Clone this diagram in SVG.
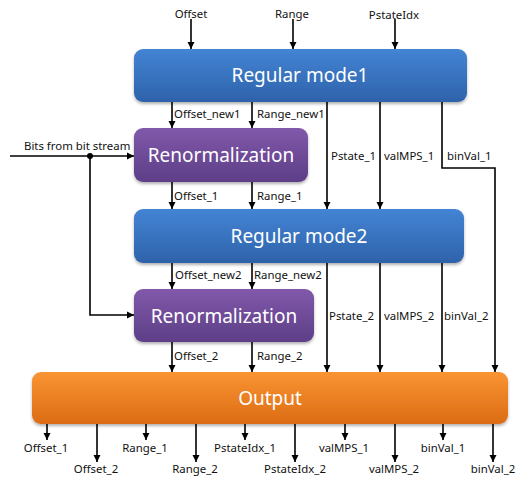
<svg xmlns="http://www.w3.org/2000/svg" width="521" height="479" viewBox="0 0 521 479">
  <style>
    .lbl { font-family: "Noto Sans", "DejaVu Sans", sans-serif; font-size: 11.4px; fill: #111; }
    .box { font-family: "Noto Sans", "DejaVu Sans", sans-serif; font-size: 19px; fill: #fff; text-anchor: middle; }
    .mid { text-anchor: middle; }
    .ln { fill: none; stroke: #000; stroke-width: 1.6; }
    .arr { marker-end: url(#ah); }
  </style>
  <defs>
    <marker id="ah" viewBox="0 0 10 10" refX="10" refY="5" markerWidth="4.5" markerHeight="4.5" markerUnits="strokeWidth" orient="auto">
      <path d="M0,0 L10,5 L0,10 z" fill="#000"/>
    </marker>
    <linearGradient id="gBlue" x1="0" y1="0" x2="0" y2="1">
      <stop offset="0" stop-color="#4384d4"/>
      <stop offset="1" stop-color="#2e62aa"/>
    </linearGradient>
    <linearGradient id="gPurple" x1="0" y1="0" x2="0" y2="1">
      <stop offset="0" stop-color="#8159aa"/>
      <stop offset="1" stop-color="#5d3e87"/>
    </linearGradient>
    <linearGradient id="gOrange" x1="0" y1="0" x2="0" y2="1">
      <stop offset="0" stop-color="#f99433"/>
      <stop offset="1" stop-color="#dc6c14"/>
    </linearGradient>
    <filter id="sh" x="-5%" y="-10%" width="110%" height="130%">
      <feDropShadow dx="0" dy="2" stdDeviation="1.5" flood-color="#000" flood-opacity="0.3"/>
    </filter>
  </defs>

  <rect width="521" height="479" fill="#fff"/>

  <!-- processing blocks -->
  <g id="regular-mode1">
    <rect x="134" y="49" width="333" height="53" rx="9" fill="url(#gBlue)" filter="url(#sh)"/>
    <text class="box" x="300" y="82">Regular mode1</text>
  </g>
  <g id="renorm1">
    <rect x="134" y="128" width="174" height="54" rx="9" fill="url(#gPurple)" filter="url(#sh)"/>
    <text class="box" x="221" y="162">Renormalization</text>
  </g>
  <g id="regular-mode2">
    <rect x="134" y="209" width="330" height="54" rx="9" fill="url(#gBlue)" filter="url(#sh)"/>
    <text class="box" x="299" y="243">Regular mode2</text>
  </g>
  <g id="renorm2">
    <rect x="134" y="289" width="180" height="53" rx="9" fill="url(#gPurple)" filter="url(#sh)"/>
    <text class="box" x="224" y="323">Renormalization</text>
  </g>
  <g id="output">
    <rect x="32" y="372" width="476" height="52" rx="9" fill="url(#gOrange)" filter="url(#sh)"/>
    <text class="box" x="270" y="405">Output</text>
  </g>

  <!-- connectors -->
  <g id="connectors">
    <!-- inputs to Regular mode1 -->
    <path class="ln arr" d="M191,19 V49"/>
    <path class="ln arr" d="M293,19 V49"/>
    <path class="ln arr" d="M395,19 V49"/>
    <!-- Regular mode1 to Renormalization -->
    <path class="ln arr" d="M172,102 V128"/>
    <path class="ln arr" d="M252,102 V128"/>
    <!-- Regular mode1 side outputs -->
    <path class="ln arr" d="M327,102 V209"/>
    <path class="ln arr" d="M380,102 V209"/>
    <path class="ln arr" d="M442,102 V168 H495 V372"/>
    <!-- bit stream -->
    <path class="ln arr" d="M10,156 H134"/>
    <path class="ln arr" d="M90,156 V315 H134"/>
    <circle cx="90" cy="156" r="3" fill="#000"/>
    <!-- Renormalization to Regular mode2 -->
    <path class="ln arr" d="M172,182 V209"/>
    <path class="ln arr" d="M252,182 V209"/>
    <!-- Regular mode2 outputs -->
    <path class="ln arr" d="M172,263 V289"/>
    <path class="ln arr" d="M252,263 V289"/>
    <path class="ln arr" d="M327,263 V372"/>
    <path class="ln arr" d="M380,263 V372"/>
    <path class="ln arr" d="M442,263 V372"/>
    <!-- Renormalization 2 to Output -->
    <path class="ln arr" d="M172,342 V372"/>
    <path class="ln arr" d="M252,342 V372"/>
    <!-- Output results -->
    <path class="ln arr" d="M47,424 V440"/>
    <path class="ln arr" d="M97,424 V462"/>
    <path class="ln arr" d="M146,424 V440"/>
    <path class="ln arr" d="M196,424 V462"/>
    <path class="ln arr" d="M245,424 V440"/>
    <path class="ln arr" d="M295,424 V462"/>
    <path class="ln arr" d="M345,424 V440"/>
    <path class="ln arr" d="M395,424 V462"/>
    <path class="ln arr" d="M443,424 V440"/>
    <path class="ln arr" d="M493,424 V462"/>
  </g>

  <!-- labels -->
  <g id="labels">
    <text class="lbl mid" x="191" y="18">Offset</text>
    <text class="lbl mid" x="292" y="18">Range</text>
    <text class="lbl mid" x="394" y="19">PstateIdx</text>

    <text class="lbl" x="174" y="118">Offset_new1</text>
    <text class="lbl" x="257" y="118">Range_new1</text>
    <text class="lbl" x="24" y="150">Bits from bit stream</text>
    <text class="lbl" x="331" y="160">Pstate_1</text>
    <text class="lbl" x="384" y="160">valMPS_1</text>
    <text class="lbl" x="447" y="160">binVal_1</text>

    <text class="lbl" x="174" y="200">Offset_1</text>
    <text class="lbl" x="257" y="200">Range_1</text>

    <text class="lbl" x="175" y="279">Offset_new2</text>
    <text class="lbl" x="254" y="279">Range_new2</text>
    <text class="lbl" x="329" y="320">Pstate_2</text>
    <text class="lbl" x="384" y="320">valMPS_2</text>
    <text class="lbl" x="444" y="320">binVal_2</text>

    <text class="lbl" x="174" y="360">Offset_2</text>
    <text class="lbl" x="257" y="360">Range_2</text>

    <text class="lbl mid" x="46" y="452">Offset_1</text>
    <text class="lbl mid" x="96" y="473">Offset_2</text>
    <text class="lbl mid" x="145" y="452">Range_1</text>
    <text class="lbl mid" x="195" y="473">Range_2</text>
    <text class="lbl mid" x="245" y="452">PstateIdx_1</text>
    <text class="lbl mid" x="295" y="473">PstateIdx_2</text>
    <text class="lbl mid" x="344" y="452">valMPS_1</text>
    <text class="lbl mid" x="394" y="473">valMPS_2</text>
    <text class="lbl mid" x="443" y="452">binVal_1</text>
    <text class="lbl mid" x="493" y="473">binVal_2</text>
  </g>
</svg>
